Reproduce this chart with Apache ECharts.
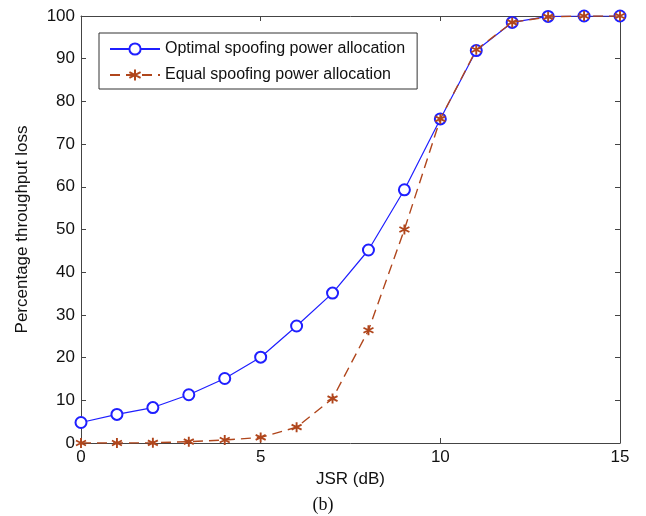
<!DOCTYPE html>
<html>
<head>
<meta charset="utf-8">
<script src="https://cdn.jsdelivr.net/npm/echarts@6/dist/echarts.min.js"></script>
<style>
  html, body { margin: 0; padding: 0; background: #fff; }
  #main { width: 646px; height: 516px; }
</style>
</head>
<body>
<div id="main"></div>
<script>
// data
var jsr = [0, 1, 2, 3, 4, 5, 6, 7, 8, 9, 10, 11, 12, 13, 14, 15];
var optimalLoss = [4.8, 6.7, 8.3, 11.3, 15.1, 20.1, 27.4, 35.1, 45.2, 59.3, 75.9, 91.9, 98.5, 99.9, 100, 100];
var equalLoss = [0, 0, 0.05, 0.3, 0.7, 1.3, 3.7, 10.4, 26.4, 50.0, 75.9, 92.1, 98.5, 99.8, 100, 100];

window.onload = function () {
  var chart = echarts.init(document.getElementById('main'));

  var blue = '#1f1fff';
  var brown = '#b0461c';
  var axisColor = '#444';
  var font = 'Liberation Sans, Arial, sans-serif';

  // 星号标记
  var star = 'path://M0,-10L0,10M-8.66,-5L8.66,5M-8.66,5L8.66,-5';

  function pairs(ys) {
    return jsr.map(function (x, i) { return [x, ys[i]]; });
  }

  var axisCommon = {
    type: 'value',
    axisLine: { show: true, onZero: false, lineStyle: { color: axisColor, width: 1 } },
    axisTick: { show: true, inside: true, length: 5, lineStyle: { color: axisColor } },
    splitLine: { show: false }
  };
  var labelStyle = { fontFamily: font, fontSize: 17, color: '#111', margin: 6 };
  var nameStyle = { fontFamily: font, fontSize: 17, color: '#111' };

  var option = {
    backgroundColor: '#fff',
    animation: false,
    grid: { left: 81, right: 26, top: 16, bottom: 73 },
    legend: {
      left: 99,
      top: 33,
      orient: 'vertical',
      backgroundColor: '#fff',
      borderColor: '#333',
      borderWidth: 1,
      borderRadius: 0,
      padding: [8, 12, 6, 10],
      itemWidth: 50,
      itemHeight: 14,
      itemGap: 10,
      textStyle: { fontFamily: font, fontSize: 16, color: '#111' },
      data: ['Optimal spoofing power allocation', 'Equal spoofing power allocation']
    },
    xAxis: [
      Object.assign({}, axisCommon, {
        min: 0, max: 15, interval: 5,
        name: 'JSR (dB)',
        nameLocation: 'middle',
        nameGap: 27,
        nameTextStyle: nameStyle,
        axisLabel: labelStyle
      }),
      Object.assign({}, axisCommon, {
        position: 'top', min: 0, max: 15, interval: 5,
        axisLabel: { show: false }
      })
    ],
    yAxis: [
      Object.assign({}, axisCommon, {
        min: 0, max: 100, interval: 10,
        name: 'Percentage throughput loss',
        nameLocation: 'middle',
        nameGap: 50,
        nameTextStyle: nameStyle,
        axisLabel: labelStyle
      }),
      Object.assign({}, axisCommon, {
        position: 'right', min: 0, max: 100, interval: 10,
        axisLabel: { show: false }
      })
    ],
    graphic: [{
      type: 'text',
      left: 'center',
      top: 496,
      style: { text: '(b)', font: '18px "Liberation Serif", "Times New Roman", serif', fill: '#111' }
    }],
    series: [
      {
        name: 'Optimal spoofing power allocation',
        type: 'line',
        data: pairs(optimalLoss),
        symbol: 'emptyCircle',
        symbolSize: 11,
        showAllSymbol: true,
        lineStyle: { color: blue, width: 1.2 },
        itemStyle: { color: blue, borderColor: blue, borderWidth: 1.2 },
        z: 2
      },
      {
        name: 'Equal spoofing power allocation',
        type: 'line',
        data: pairs(equalLoss),
        symbol: star,
        symbolSize: 10,
        showAllSymbol: true,
        lineStyle: { color: brown, width: 1.4, type: [10, 6] },
        itemStyle: { color: 'transparent', borderColor: brown, borderWidth: 1.9 },
        z: 3
      }
    ]
  };

  chart.setOption(option);
};
</script>
</body>
</html>
